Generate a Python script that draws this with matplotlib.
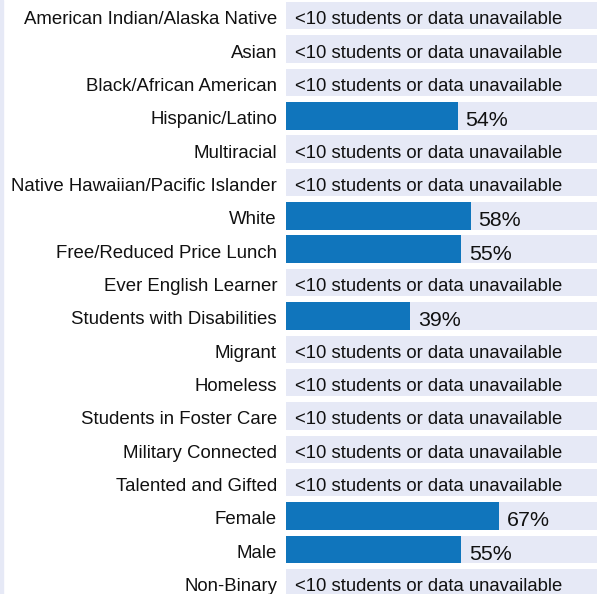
import matplotlib
matplotlib.use("Agg")
import matplotlib.pyplot as plt
from matplotlib.patches import Rectangle
import numpy as np

categories = [
    "American Indian/Alaska Native", "Asian", "Black/African American",
    "Hispanic/Latino", "Multiracial", "Native Hawaiian/Pacific Islander",
    "White", "Free/Reduced Price Lunch", "Ever English Learner",
    "Students with Disabilities", "Migrant", "Homeless",
    "Students in Foster Care", "Military Connected", "Talented and Gifted",
    "Female", "Male", "Non-Binary",
]
values = [None, None, None, 54, None, None, 58, 55, None, 39,
          None, None, None, None, None, 67, 55, None]
na_text = "<10 students or data unavailable"

BLUE = "#1075BC"
BAND = "#E6E9F6"
plt.rcParams["font.family"] = ["Liberation Sans", "DejaVu Sans"]

W, H, DPI = 597, 594, 100
fig = plt.figure(figsize=(W / DPI, H / DPI), dpi=DPI)
left_px = 286
right_px = 604.5
ax = fig.add_axes([left_px / W, 0, (right_px - left_px) / W, 1])

pitch = 33.35
top_px = 2 + 27.5 / 2  # center of first row in pixels from top
y_top = -top_px / pitch
y_bot = (H - top_px) / pitch
ax.set_ylim(y_bot, y_top)
ax.set_xlim(0, 100)

n = len(categories)
ypos = np.arange(n)
bh = 27.5 / pitch
ax.barh(ypos, [100] * n, height=bh, color=BAND, zorder=1)
vals_num = [v if v is not None else 0 for v in values]
ax.barh(ypos, vals_num, height=bh, color=BLUE, zorder=2)

for y, v in zip(ypos, values):
    if v is None:
        ax.annotate(na_text, xy=(0, y), xytext=(9, -4), textcoords="offset pixels",
                    ha="left", va="center", fontsize=13.3, color="#111111", zorder=3)
    else:
        ax.annotate(f"{v}%", xy=(v, y), xytext=(7.5, -5), textcoords="offset pixels",
                    ha="left", va="center", fontsize=15.4, color="#111111", zorder=3)

ax.set_yticks([])
ax.set_xticks([])
for s in ax.spines.values():
    s.set_visible(False)

for y, c in zip(ypos, categories):
    ax.annotate(c, xy=(0, y), xytext=(-9, -4), textcoords="offset pixels",
                ha="right", va="center", fontsize=13.4, color="#111111",
                annotation_clip=False)

fig.patches.append(Rectangle((0, 0), 3 / W, 1, transform=fig.transFigure,
                             color=BAND, zorder=0))

fig.savefig("out.png", dpi=DPI)
